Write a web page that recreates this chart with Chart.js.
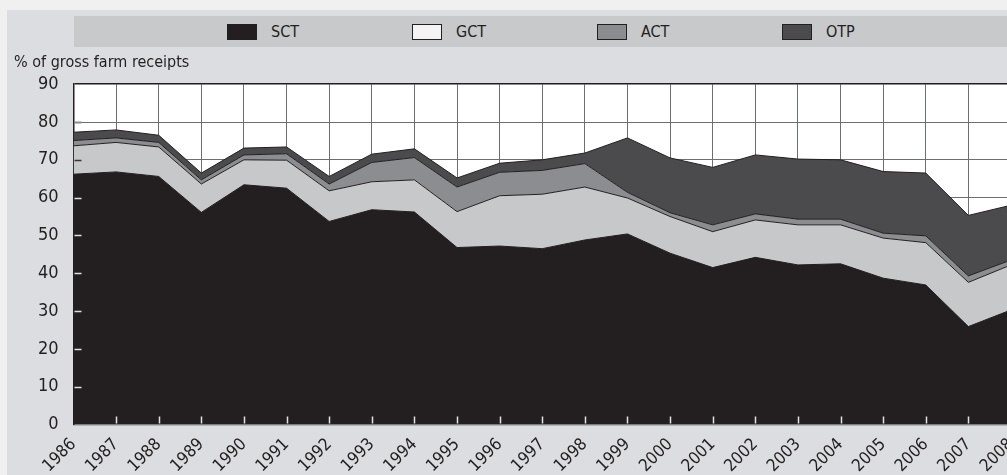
<!DOCTYPE html>
<html>
<head>
<meta charset="utf-8">
<script src="https://cdn.jsdelivr.net/npm/chart.js@4.4.1/dist/chart.umd.min.js"></script>
<style>
  html, body { margin: 0; padding: 0; width: 1007px; height: 475px; overflow: hidden; background: #f0f0f0; }
  #panel { position: absolute; left: 7px; top: 10px; width: 1100px; height: 480px; background: #dcdde0; }
  #legend { position: absolute; left: 74px; top: 16px; width: 1000px; height: 31px; background: #c8c9cb;
    display: flex; align-items: center; padding-left: 153px; box-sizing: border-box;
    font: 16px 'Liberation Sans Narrow', 'DejaVu Sans Condensed', sans-serif; color: #231f20; }
  .item { width: 185px; flex: none; display: flex; align-items: center; }
  .swatch { width: 30px; height: 16px; box-sizing: border-box; border: 1px solid #231f20; margin-right: 14px; }
  #chart { position: absolute; left: 0; top: 0; }
</style>
</head>
<body>
<div id="panel"></div>
<canvas id="chart" width="1040" height="475"></canvas>
<div id="legend"></div>
<script>
// data
const years = ['1986', '1987', '1988', '1989', '1990', '1991', '1992', '1993', '1994', '1995', '1996',
  '1997', '1998', '1999', '2000', '2001', '2002', '2003', '2004', '2005', '2006', '2007', '2008'];
const sct = [66.2, 66.8, 65.6, 56.1, 63.4, 62.5, 53.7, 56.8, 56.2, 46.8, 47.2, 46.5,
  48.8, 50.4, 45.3, 41.5, 44.2, 42.2, 42.5, 38.7, 36.9, 25.9, 30.3];
const gct = [7.5, 7.8, 7.8, 7.5, 6.6, 7.4, 8.1, 7.4, 8.5, 9.5, 13.3, 14.4,
  14.0, 9.5, 9.7, 9.5, 9.9, 10.6, 10.3, 10.6, 11.2, 11.7, 11.9];
const act = [1.4, 1.2, 1.2, 1.1, 1.3, 1.7, 1.8, 5.1, 5.9, 6.5, 6.2, 6.3,
  6.2, 1.5, 1.0, 1.8, 1.6, 1.5, 1.5, 1.3, 1.8, 1.7, 1.3];
const otp = [2.2, 2.1, 1.9, 1.8, 1.8, 1.8, 2.0, 2.2, 2.3, 2.4, 2.4, 2.8,
  2.8, 14.4, 14.5, 15.2, 15.6, 15.9, 15.7, 16.3, 16.6, 16.0, 14.5];
const yTicks = [0, 10, 20, 30, 40, 50, 60, 70, 80, 90];

const ink = '#231f20';
const font = "'Liberation Sans Narrow', 'DejaVu Sans Condensed', sans-serif";

function area(label, data, color, legendColor, fill) {
  return {
    label: label,
    data: data,
    backgroundColor: color,
    legendColor: legendColor,
    borderColor: ink,
    borderWidth: 1,
    pointRadius: 0,
    tension: 0,
    fill: fill
  };
}

// white plot background
const plotBg = {
  id: 'plotBg',
  beforeDraw(chart) {
    const { ctx, chartArea } = chart;
    ctx.save();
    ctx.fillStyle = '#ffffff';
    ctx.fillRect(chartArea.left, chartArea.top, chartArea.right - chartArea.left, chartArea.bottom - chartArea.top);
    ctx.restore();
  }
};

// white tick marks drawn over the areas
const innerTicks = {
  id: 'innerTicks',
  afterDatasetsDraw(chart) {
    const { ctx, chartArea, scales } = chart;
    const x = scales.x, y = scales.y;
    ctx.save();
    ctx.globalCompositeOperation = 'difference';
    ctx.strokeStyle = '#ffffff';
    ctx.lineWidth = 1.5;
    ctx.beginPath();
    y.ticks.forEach(function (t) {
      if (t.value <= y.min || t.value >= y.max) return;
      const py = Math.round(y.getPixelForValue(t.value)) + 0.5;
      ctx.moveTo(chartArea.left + 1, py);
      ctx.lineTo(chartArea.left + 8, py);
    });
    x.ticks.forEach(function (t, i) {
      if (i === 0) return;
      const px = Math.round(x.getPixelForTick(i)) + 0.5;
      ctx.moveTo(px, chartArea.bottom - 8);
      ctx.lineTo(px, chartArea.bottom - 1);
    });
    ctx.stroke();
    ctx.restore();
  }
};

const chart = new Chart(document.getElementById('chart'), {
  type: 'line',
  data: {
    labels: years,
    datasets: [
      area('SCT', sct, '#231f20', '#231f20', 'origin'),
      area('GCT', gct, '#c7c8ca', '#f4f4f4', '-1'),
      area('ACT', act, '#8c8d90', '#8c8d90', '-1'),
      area('OTP', otp, '#4b4b4d', '#4b4b4d', '-1')
    ]
  },
  options: {
    responsive: false,
    animation: false,
    devicePixelRatio: 1,
    layout: { padding: { left: 14, right: 29, top: 46, bottom: 0 } },
    plugins: {
      legend: { display: false },
      tooltip: { enabled: false },
      title: {
        display: true,
        text: '% of gross farm receipts',
        align: 'start',
        color: ink,
        font: { family: font, size: 16, weight: 'normal' },
        padding: { top: 7, bottom: 12 }
      }
    },
    scales: {
      x: {
        grid: { color: '#6d6e71', drawTicks: false },
        border: { color: '#8a8b8d', width: 1.5 },
        ticks: {
          color: ink, font: { family: font, size: 17 },
          maxRotation: 45, minRotation: 45, autoSkip: false, padding: 10
        },
        afterFit(s) { s.height = 50.5; }
      },
      y: {
        stacked: true,
        min: 0,
        max: 90,
        grid: {
          color: c => c.tick.value === 90 ? ink : '#6d6e71',
          lineWidth: c => c.tick.value === 90 ? 1.5 : 1,
          drawTicks: false
        },
        border: { color: ink, width: 1.5 },
        ticks: { color: ink, font: { family: font, size: 18 }, padding: 15 },
        afterBuildTicks(s) { s.ticks = yTicks.map(v => ({ value: v })); },
        afterFit(s) { s.width = 59.5; }
      }
    }
  },
  plugins: [plotBg, innerTicks]
});

// legend built from the chart's datasets
const legendBox = document.getElementById('legend');
chart.data.datasets.forEach(function (ds) {
  const item = document.createElement('div');
  item.className = 'item';
  const sw = document.createElement('span');
  sw.className = 'swatch';
  sw.style.background = ds.legendColor;
  const txt = document.createElement('span');
  txt.textContent = ds.label;
  item.appendChild(sw);
  item.appendChild(txt);
  legendBox.appendChild(item);
});
</script>
</body>
</html>
